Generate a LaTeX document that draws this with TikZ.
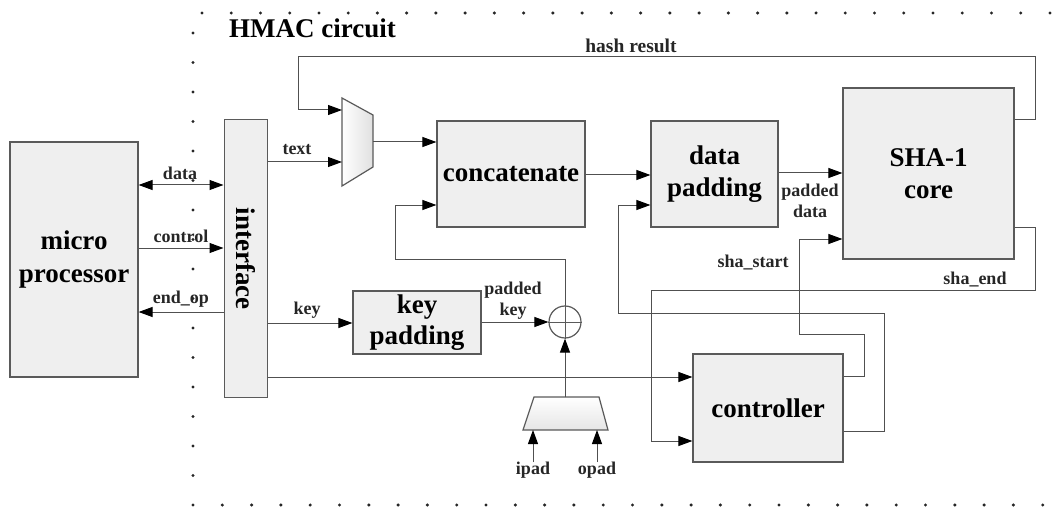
\documentclass[tikz,border=0pt]{standalone}
\usepackage{fontspec}
\setmainfont{Liberation Serif}
\usetikzlibrary{arrows.meta,calc}
\definecolor{boxfill}{HTML}{EFEFEF}
\definecolor{wire}{HTML}{505050}
\definecolor{edge}{HTML}{5A5A5A}
\tikzset{
  block/.style={draw=edge,line width=1.2pt,fill=boxfill,align=center,inner sep=0pt,
    font=\fontsize{27}{32}\selectfont\bfseries},
  wirestyle/.style={draw=wire,line width=1pt},
  arr/.style={wirestyle,-{Triangle[length=14pt,width=10pt,color=black]}},
  darr/.style={wirestyle,{Triangle[length=14pt,width=10pt,color=black]}-{Triangle[length=14pt,width=10pt,color=black]}},
  sig/.style={font=\fontsize{18}{21}\selectfont\bfseries,inner sep=0pt,align=center,text=black!85},
  dotmark/.style={fill=black!85,draw=none}
}
\begin{document}
\begin{tikzpicture}[x=1pt,y=-1pt]
\useasboundingbox (0,0) rectangle (1058,508);

% dotted border of the HMAC block
\foreach \i in {0,...,29} \fill[dotmark] (202+\i*29.24,13) circle (1.7);
\foreach \i in {0,...,16} \fill[dotmark] (193,33+\i*29.5) circle (1.7);
\foreach \i in {1,...,29} \fill[dotmark] (193+\i*29.3,505) circle (1.7);
\node[font=\fontsize{27}{27}\selectfont\bfseries,anchor=west,inner sep=0pt] (title) at (229,28) {HMAC circuit};

% blocks
\node[block,minimum width=128,minimum height=235,font=\fontsize{27}{33}\selectfont\bfseries] (mp) at (74,259.5) {micro\\processor};
\node[block,minimum width=43,minimum height=277,line width=1pt] (intf) at (245.5,258.5) {\rotatebox{-90}{interface}};
\node[block,minimum width=148,minimum height=106] (cat) at (511,174) {concatenate};
\node[block,minimum width=127,minimum height=106] (dpad) at (714.5,174) {data\\padding};
\node[block,minimum width=171,minimum height=171] (sha) at (928.5,173.5) {SHA-1\\core};
\node[block,minimum width=128,minimum height=63,font=\fontsize{27}{31}\selectfont\bfseries] (kpad) at (417,322.5) {key\\padding};
\node[block,minimum width=150,minimum height=108] (ctrl) at (768,408) {controller};
\node[draw=edge,line width=1.2pt,circle,minimum size=32,inner sep=0pt] (xor) at (565,322) {};
\draw[edge,line width=0.8pt] (xor.north) -- (xor.south) (xor.west) -- (xor.east);

% input multiplexer
\coordinate (m1a) at (342,98);
\coordinate (m1b) at (373,115);
\coordinate (m1c) at (373,167);
\coordinate (m1d) at (342,186);
\shade[left color=white,right color=black!12] (m1a) -- (m1b) -- (m1c) -- (m1d) -- cycle;
\draw[edge,line width=1.2pt] (m1a) -- (m1b) -- (m1c) -- (m1d) -- cycle;
\coordinate (m1in1) at (342,110);
\coordinate (m1in2) at (342,162);
\coordinate (m1out) at (373,142);

% pad selector
\coordinate (m2a) at (534,397);
\coordinate (m2b) at (599,397);
\coordinate (m2c) at (608,430);
\coordinate (m2d) at (523,430);
\shade[top color=white,bottom color=black!10] (m2a) -- (m2b) -- (m2c) -- (m2d) -- cycle;
\draw[edge,line width=1.2pt] (m2a) -- (m2b) -- (m2c) -- (m2d) -- cycle;
\coordinate (m2out) at (565,397);
\coordinate (m2i) at (533,430);
\coordinate (m2o) at (597,430);
\node[sig,anchor=north] (ipad) at (533,462) {ipad};
\node[sig,anchor=north] (opad) at (597,462) {opad};
\draw[arr] (ipad.north) -- (m2i);
\draw[arr] (opad.north) -- (m2o);
\draw[arr] (m2out) -- (xor.south);

% row coordinates
\coordinate (ydata) at (0,185);
\coordinate (yctl) at (0,248);
\coordinate (yend) at (0,312);
\coordinate (ytext) at (0,162);
\coordinate (ykey) at (0,323);
\coordinate (yctlin) at (0,377);

% processor interface
\draw[darr] (mp.east |- ydata) -- (intf.west |- ydata);
\draw[arr] (mp.east |- yctl) -- (intf.west |- yctl);
\draw[arr] (intf.west |- yend) -- (mp.east |- yend);
\node[sig] (ldata) at (180,173) {data};
\node[sig] (lctl) at (181,236) {control};
\node[sig] (lend) at (181,299) {end\_op};

% data path
\draw[arr] (intf.east |- ytext) -- (m1in2);
\node[sig] (ltext) at (297,150) {text};
\draw[arr] (sha.east |- 0,120) -- (1035,120) -- (1035,57) -- (298,57) -- (298,110) -- (m1in1);
\node[sig,font=\fontsize{19.5}{21}\selectfont\bfseries] (lhash) at (631,46) {hash result};
\draw[arr] (m1out) -- (cat.west |- m1out);
\draw[arr] (cat.east |- 0,175) -- (dpad.west |- 0,175);
\draw[arr] (dpad.east |- 0,173) -- (sha.west |- 0,173);
\node[sig] (lpd) at (810,201) {padded\\data};

% key path
\draw[arr] (intf.east |- ykey) -- (kpad.west |- ykey);
\node[sig] (lkey) at (307,310) {key};
\draw[arr] (kpad.east |- xor) -- (xor.west);
\node[sig] (lpk) at (513,301) {padded\\key};
\draw[arr] (xor.north) -- (565,259) -- (395,259) -- (395,205) -- (cat.west |- 0,205);

% control path
\draw[arr] (intf.east |- yctlin) -- (ctrl.west |- yctlin);
\draw[arr] (ctrl.east |- 0,376) -- (864,376) -- (864,334) -- (799,334) -- (799,239) -- (sha.west |- 0,239);
\node[sig] (lss) at (753,263) {sha\_start};
\draw[arr] (ctrl.east |- 0,431) -- (884,431) -- (884,313) -- (618,313) -- (618,205) -- (dpad.west |- 0,205);
\draw[arr] (sha.east |- 0,227) -- (1035,227) -- (1035,290) -- (651,290) -- (651,441) -- (ctrl.west |- 0,441);
\node[sig] (lse) at (975,280) {sha\_end};
\end{tikzpicture}
\end{document}
